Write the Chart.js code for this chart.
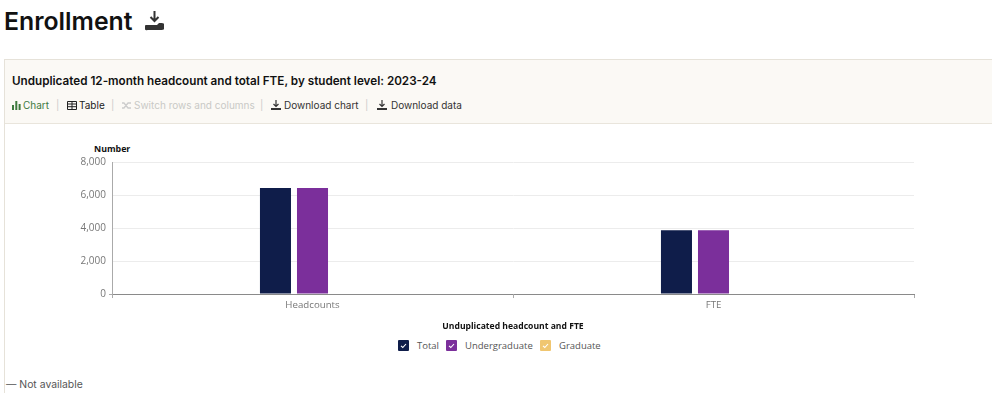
<!DOCTYPE html>
<html>
<head>
<meta charset="utf-8">
<title>Enrollment</title>
<script src="https://cdn.jsdelivr.net/npm/chart.js@4"></script>
<style>
    html, body { margin: 0; padding: 0; background: #fff; }
    body { width: 992px; height: 393px; overflow: hidden; position: relative; font-family: Inter, sans-serif; color: #111; }
    h1 { position: absolute; left: 4px; top: 5px; margin: 0; font-size: 24.8px; line-height: 32px; font-weight: 600; letter-spacing: 0; }
    .big-icon { position: absolute; left: 145px; top: 10px; }
    .panel { position: absolute; left: 4px; top: 59px; width: 988px; height: 334px; border-left: 1px solid #e6e2d9; border-top: 1px solid #e6e2d9; box-sizing: border-box; }
    .panel-head { position: absolute; left: 0; top: 0; width: 100%; height: 64px; background: #fbf9f5; border-bottom: 1px solid #e9e5dc; box-sizing: border-box; }
    .panel-title { position: absolute; left: 7px; top: 13px; font-size: 11.7px; line-height: 16px; font-weight: 600; white-space: nowrap; }
    .tool { position: absolute; top: 38px; font-size: 10px; line-height: 14px; color: #333; white-space: nowrap; }
    .sep { color: #ccc; }
    canvas { position: absolute; left: 5px; top: 124px; }
    .y-name { position: absolute; left: 94px; top: 143px; font-size: 8.800px; line-height: 12px; font-weight: 700; color: #111; font-family: "Open Sans", sans-serif; }
    #legend { position: absolute; left: 0; top: 0; }
    .key { position: absolute; top: 340px; width: 11px; height: 11px; border-radius: 1px; }
    .key svg { display: block; }
    .key-text { position: absolute; top: 338px; font-size: 9.500px; line-height: 15px; color: #555; font-family: "Open Sans", sans-serif; white-space: nowrap; }
    .note { position: absolute; left: 6px; top: 377px; font-size: 10.4px; line-height: 15px; color: #555; }
</style>
</head>
<body>
<h1>Enrollment</h1>
<svg class="big-icon" width="19" height="21" viewBox="0 0 19 21">
    <path d="M9.5 1v9M5.5 7l4 4 4-4" fill="none" stroke="#333" stroke-width="2"/>
    <path d="M1 15h11l2-2h2.5a2 2 0 0 1 0 7H2.5a2 2 0 0 1-1.500-5z" fill="#333"/>
</svg>

<div class="panel">
    <div class="panel-head">
        <div class="panel-title">Unduplicated 12-month headcount and total FTE, by student level: 2023-24</div>
    </div>
</div>

<svg style="position:absolute;left:12px;top:101px" width="9" height="9" viewBox="0 0 9 9"><path d="M0 4h2v5H0zM3.300 0h2v9h-2zM6.600 3h2v6h-2z" fill="#3e7a3e"/></svg>
<div class="tool" style="left:23px;top:98px;color:#3e7a3e">Chart</div>
<div class="tool sep" style="left:56px;top:98px">|</div>
<svg style="position:absolute;left:67px;top:101px" width="10" height="9" viewBox="0 0 10 9"><path d="M.5.500h9v8h-9zM.5 3h9M.5 5.700h9M5 .5v8" fill="none" stroke="#222" stroke-width="1"/></svg>
<div class="tool" style="left:79px;top:98px;color:#222">Table</div>
<div class="tool sep" style="left:111px;top:98px">|</div>
<svg style="position:absolute;left:122px;top:101px" width="10" height="9" viewBox="0 0 10 9"><path d="M0 2h2l4 5h3M0 7h2l4-5h3" fill="none" stroke="#ccc" stroke-width="1.300"/></svg>
<div class="tool" style="left:134px;top:98px;color:#c9c9c6">Switch rows and columns</div>
<div class="tool sep" style="left:260px;top:98px">|</div>
<svg style="position:absolute;left:271px;top:100px" width="10" height="10" viewBox="0 0 10 10"><path d="M5 0v6M2.500 4l2.500 2.500L7.500 4" fill="none" stroke="#333" stroke-width="1.200"/><path d="M0 8h10v2H0z" fill="#333"/></svg>
<div class="tool" style="left:284px;top:98px">Download chart</div>
<div class="tool sep" style="left:365px;top:98px">|</div>
<svg style="position:absolute;left:377px;top:100px" width="10" height="10" viewBox="0 0 10 10"><path d="M5 0v6M2.500 4l2.500 2.500L7.500 4" fill="none" stroke="#333" stroke-width="1.200"/><path d="M0 8h10v2H0z" fill="#333"/></svg>
<div class="tool" style="left:391px;top:98px">Download data</div>

<div class="y-name">Number</div>
<canvas id="enrollment-chart" width="987" height="208" style="width:987px;height:208px"></canvas>
<div id="legend"></div>
<div class="note">— Not available</div>

<script>
const categories = ['Headcounts', 'FTE'];
const totalValues = [6430, 3870];
const undergraduateValues = [6430, 3870];
const graduateValues = [null, null];
const yTicks = [0, 2000, 4000, 6000, 8000];
const seriesNames = ['Total', 'Undergraduate', 'Graduate'];
const seriesColors = ['#0f1d4a', '#7b2f9b', '#f0c670'];
const xAxisName = 'Unduplicated headcount and FTE';

const seriesValues = [totalValues, undergraduateValues, graduateValues];

new Chart(document.getElementById('enrollment-chart'), {
    type: 'bar',
    data: {
        labels: categories,
        datasets: seriesNames.map((name, i) => ({
            label: name,
            data: seriesValues[i],
            backgroundColor: seriesColors[i],
            categoryPercentage: 0.277,
            barPercentage: 0.838
        }))
    },
    options: {
        responsive: false,
        animation: false,
        layout: { padding: { top: 38, right: 78, bottom: 0, left: 0 } },
        plugins: { legend: { display: false }, tooltip: { enabled: false } },
        scales: {
            x: {
                border: { color: '#8a8a8a', width: 1 },
                grid: { drawOnChartArea: false, color: '#aaa', tickLength: 4 },
                ticks: { color: '#777', padding: 1, font: { family: 'Open Sans', size: 9.7 } },
                title: {
                    display: true,
                    text: xAxisName,
                    color: '#111',
                    padding: { top: 10, bottom: 0 },
                    font: { family: 'Open Sans', size: 8.6, weight: '700' }
                }
            },
            y: {
                min: 0,
                max: 8000,
                afterFit: scale => { scale.width = 107; },
                afterBuildTicks: scale => { scale.ticks = yTicks.map(value => ({ value })); },
                border: { color: '#aaa', width: 1 },
                grid: {
                    color: '#ececec',
                    tickLength: 3,
                    tickColor: ctx => (ctx.tick && ctx.tick.value === 0 ? '#aaa' : 'rgba(0,0,0,0)')
                },
                ticks: {
                    color: '#777',
                    padding: 3,
                    font: { family: 'Open Sans', size: 10 },
                    callback: value => value.toLocaleString('en-US')
                }
            }
        }
    }
});

// legend is plain html so the checkbox squares match the site
const legend = document.getElementById('legend');
const keyLefts = [398, 446, 540];
const textLefts = [417, 465, 559];
seriesNames.forEach((name, i) => {
    legend.insertAdjacentHTML('beforeend', `
        <div class="key" style="left:${keyLefts[i]}px;background:${seriesColors[i]}">
            <svg width="11" height="11" viewBox="0 0 11 11"><path d="M3 5.800l1.800 1.700L8 4" fill="none" stroke="#fff" stroke-width="1.100"/></svg>
        </div>
        <div class="key-text" style="left:${textLefts[i]}px">${name}</div>
    `);
});
</script>
</body>
</html>
